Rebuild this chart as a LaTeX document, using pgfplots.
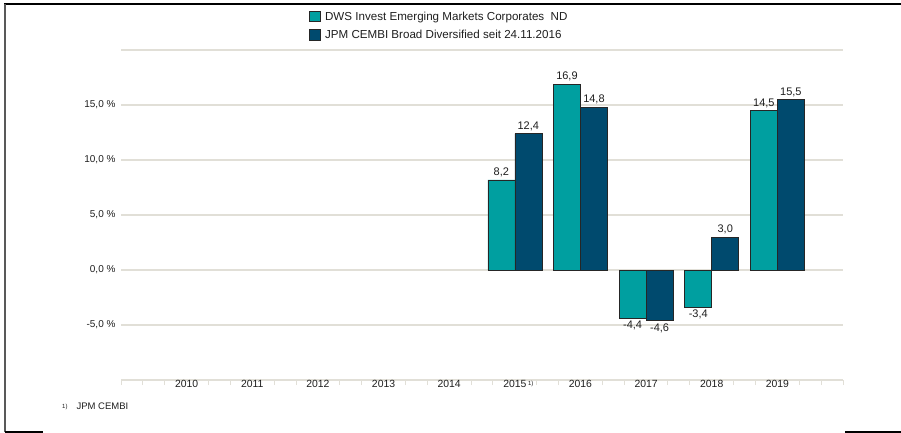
\documentclass[border=0pt]{standalone}
\usepackage{pgfplots}
\pgfplotsset{compat=1.18}
\usepackage{fontspec}
\setmainfont{Liberation Sans}
\definecolor{dwsteal}{HTML}{009FA0}
\definecolor{jpmnavy}{HTML}{004A6E}
\definecolor{gridc}{HTML}{E1DFD7}
\definecolor{txt}{HTML}{1E1E1E}
\newcommand\lab{\fontsize{11bp}{13bp}\selectfont}
\newcommand\leglab{\fontsize{11.6bp}{13.6bp}\selectfont}
\newcommand\xlab{\fontsize{10.4bp}{12.4bp}\selectfont}
\newcommand\tlab{\fontsize{10bp}{12bp}\selectfont}
\begin{document}
\begin{tikzpicture}
\useasboundingbox (0,0) rectangle (901bp,433bp);
\begin{axis}[
  at={(121bp,53bp)}, anchor=south west,
  scale only axis, width=722bp, height=330bp,
  xmin=2009, xmax=2020, ymin=-10, ymax=20,
  /pgf/number format/assume math mode=true,
  ybar=0pt, bar width=27bp,
  axis x line*=bottom, axis y line*=left,
  y axis line style={draw=none},
  x axis line style={draw=gridc, line width=1.2bp},
  xtick={2009,2009.3333,2009.6667,2010.3333,2010.6667,2011.3333,2011.6667,2012.3333,2012.6667,2013.3333,2013.6667,2014.3333,2014.6667,2015.3333,2015.6667,2016.3333,2016.6667,2017.3333,2017.6667,2018.3333,2018.6667,2019.3333,2019.6667,2020},
  xticklabels={},
  major x tick style={draw=gridc, line width=1bp},
  major tick length=5bp,
  tick align=outside,
  extra x ticks={2010,2011,2012,2013,2014,2015,2016,2017,2018,2019},
  extra x tick labels={2010,2011,2012,2013,2014,2015\rlap{\,\raisebox{0.45ex}{\fontsize{6bp}{7bp}\selectfont 1)}},2016,2017,2018,2019},
  extra x tick style={major tick length=0pt, grid=none, xticklabel style={yshift=3bp}},
  ytick={-5,0,5,10,15,20},
  yticklabels={{-5,0 \%},{0,0 \%},{5,0 \%},{10,0 \%},{15,0 \%},{}},
  major y tick style={draw=none},
  ymajorgrids, grid style={draw=gridc, line width=1.2bp},
  ticklabel style={font=\tlab, text=txt},
  yticklabel style={xshift=3bp},
  xticklabel style={font=\xlab},
  x tick label style={font=\xlab},
  nodes near coords={\pgfmathprintnumber[fixed,fixed zerofill,precision=1,use comma]{\pgfplotspointmeta}},
  nodes near coords align=vertical,
  every node near coord/.append style={font=\lab, text=txt, inner sep=2.5bp},
  legend style={at={(rel axis cs:0.256,1.128)}, anchor=north west, draw=none, fill=none,
    font=\leglab, text=txt, row sep=4.5bp, cells={anchor=west}},
  legend image code/.code={\draw[#1,draw=black!85,line width=0.6bp] (0bp,-4.8bp) rectangle (10.5bp,5.7bp);},
  clip=false,
]
\addplot[fill=dwsteal, draw=black!85, line width=0.6bp] coordinates {(2015,8.2) (2016,16.9) (2017,-4.4) (2018,-3.4) (2019,14.5)};
\addplot[fill=jpmnavy, draw=black!85, line width=0.6bp] coordinates {(2015,12.4) (2016,14.8) (2017,-4.6) (2018,3.0) (2019,15.5)};
\legend{\hspace{3bp}DWS Invest Emerging Markets Corporates\ \ ND, \hspace{3bp}JPM CEMBI Broad Diversified seit 24.11.2016}
\end{axis}
\draw[black, line width=1.6bp] (4bp,429bp) -- (901bp,429bp);
\draw[black!65, line width=1.8bp] (5bp,1bp) -- (5bp,429bp);
\draw[black, line width=1.2bp] (5bp,1bp) -- (43bp,1bp);
\draw[black, line width=1.2bp] (845bp,1bp) -- (901bp,1bp);
\node[anchor=base west, inner sep=0pt, text=txt] at (62bp,23bp) {\raisebox{0.3ex}{\fontsize{6bp}{7bp}\selectfont 1)}\hspace{9bp}\fontsize{9.5bp}{11bp}\selectfont JPM CEMBI};
\end{tikzpicture}
\end{document}
